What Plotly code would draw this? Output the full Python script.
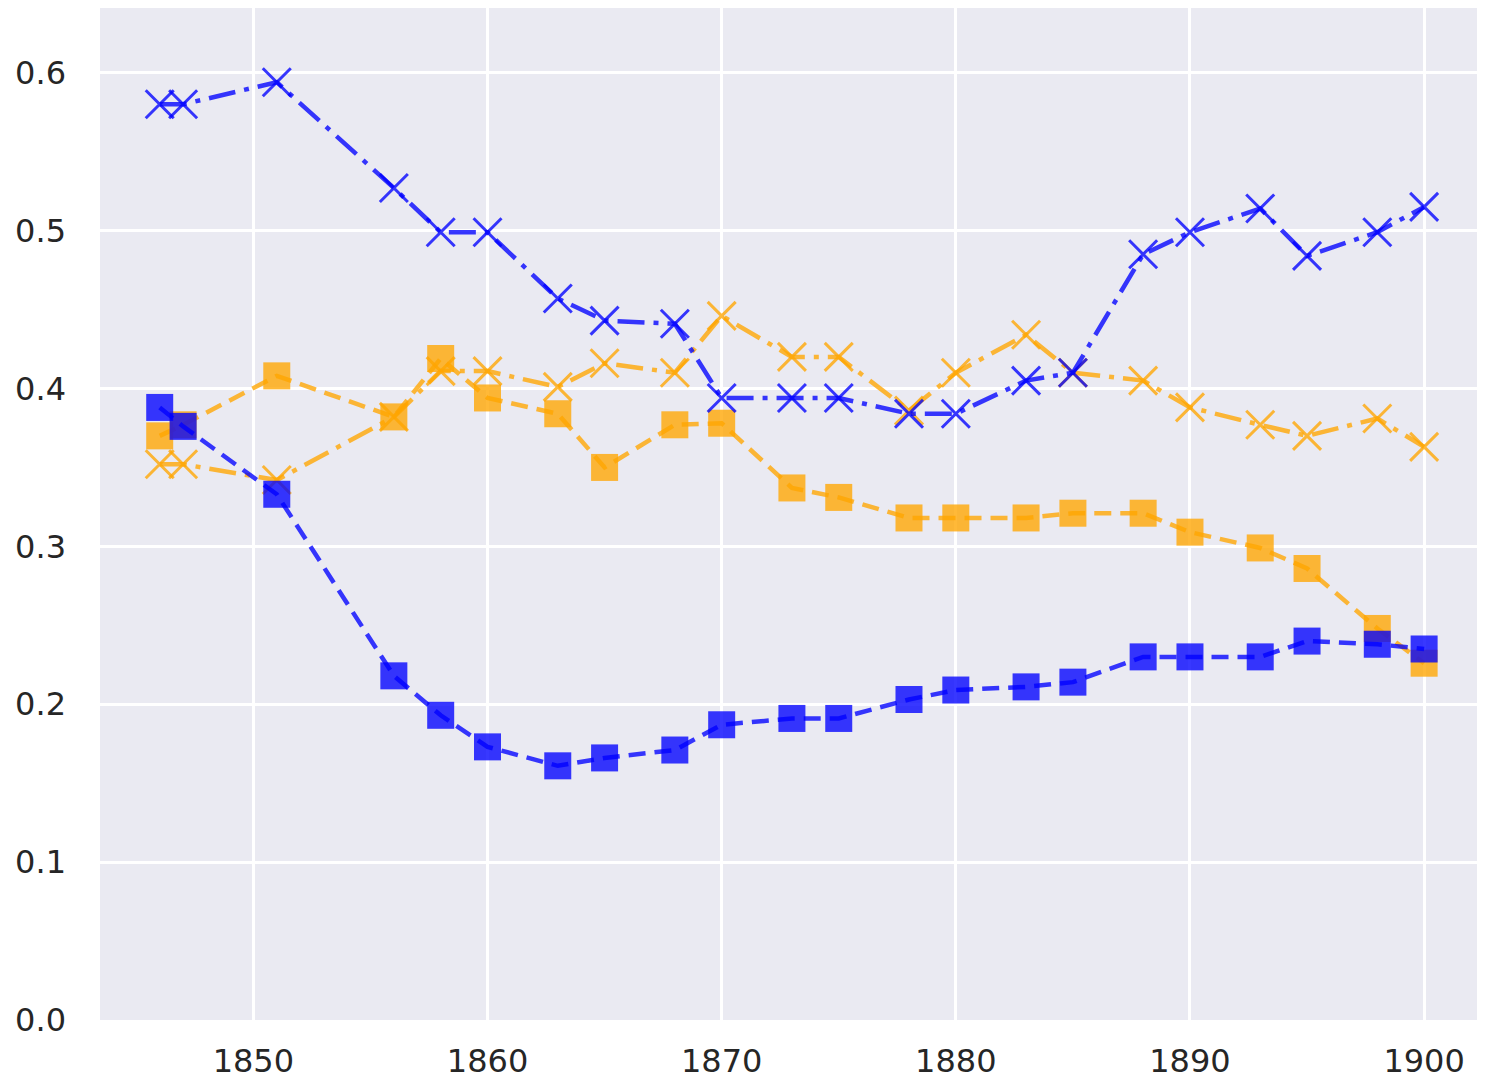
import plotly.graph_objects as go

years = [1846, 1847, 1851, 1856, 1858, 1860, 1863, 1865, 1868, 1870, 1873,
         1875, 1878, 1880, 1883, 1885, 1888, 1890, 1893, 1895, 1898, 1900]

blue_x = [0.580, 0.580, 0.594, 0.527, 0.499, 0.499, 0.457, 0.443, 0.441, 0.394, 0.394,
          0.394, 0.384, 0.384, 0.405, 0.410, 0.485, 0.499, 0.514, 0.484, 0.499, 0.515]
orange_x = [0.352, 0.352, 0.342, 0.382, 0.411, 0.411, 0.401, 0.416, 0.410, 0.446, 0.420,
            0.420, 0.386, 0.410, 0.434, 0.410, 0.405, 0.388, 0.377, 0.370, 0.381, 0.363]
blue_sq = [0.388, 0.376, 0.333, 0.218, 0.193, 0.173, 0.161, 0.166, 0.171, 0.187, 0.191,
           0.191, 0.203, 0.209, 0.211, 0.214, 0.230, 0.230, 0.230, 0.240, 0.238, 0.235]
orange_sq = [0.370, 0.377, 0.408, 0.382, 0.419, 0.394, 0.384, 0.350, 0.377, 0.378, 0.337,
             0.331, 0.318, 0.318, 0.318, 0.321, 0.321, 0.309, 0.299, 0.286, 0.248, 0.226]

x_ticks = [1850, 1860, 1870, 1880, 1890, 1900]
y_ticks = [0.0, 0.1, 0.2, 0.3, 0.4, 0.5, 0.6]

BLUE = "rgba(0,0,255,0.78)"
ORANGE = "rgba(255,165,0,0.78)"
DASH = "17px,9px"
DASHDOT = "27px,9px,5px,9px"

fig = go.Figure()

def add_sq(y, color):
    fig.add_trace(go.Scatter(
        x=years, y=y, mode="lines+markers",
        line=dict(color=color, width=4.5, dash=DASH),
        marker=dict(symbol="square", size=27, color=color, line=dict(width=0)),
        showlegend=False))

def add_x(y, color):
    fig.add_trace(go.Scatter(
        x=years, y=y, mode="lines+markers",
        line=dict(color=color, width=4.5, dash=DASHDOT),
        marker=dict(symbol="x-thin", size=28, color=color, line=dict(width=3, color=color)),
        showlegend=False))

add_sq(orange_sq, ORANGE)
add_x(orange_x, ORANGE)
add_x(blue_x, BLUE)
add_sq(blue_sq, BLUE)

fig.update_layout(
    width=1477, height=1072,
    margin=dict(l=92, r=0, t=0, b=60),
    paper_bgcolor="white",
    plot_bgcolor="#EAEAF2",
    font=dict(family="DejaVu Sans", size=32, color="#262626"),
    showlegend=False,
)
fig.update_xaxes(
    range=[1843.45, 1902.6], tickvals=x_ticks, ticktext=[str(v) for v in x_ticks],
    showgrid=True, gridcolor="white", gridwidth=3, zeroline=False,
    showline=False, ticks="", ticklabelstandoff=19, automargin=False,
    tickfont=dict(size=32, color="#262626"),
)
fig.update_yaxes(
    range=[0, 0.641], tickvals=y_ticks, ticktext=[f"{v:.1f}" for v in y_ticks],
    showgrid=True, gridcolor="white", gridwidth=3, zeroline=False,
    showline=False, ticks="", ticklabelstandoff=33, automargin=False,
    tickfont=dict(size=32, color="#262626"),
)

fig.write_html("out.html")
